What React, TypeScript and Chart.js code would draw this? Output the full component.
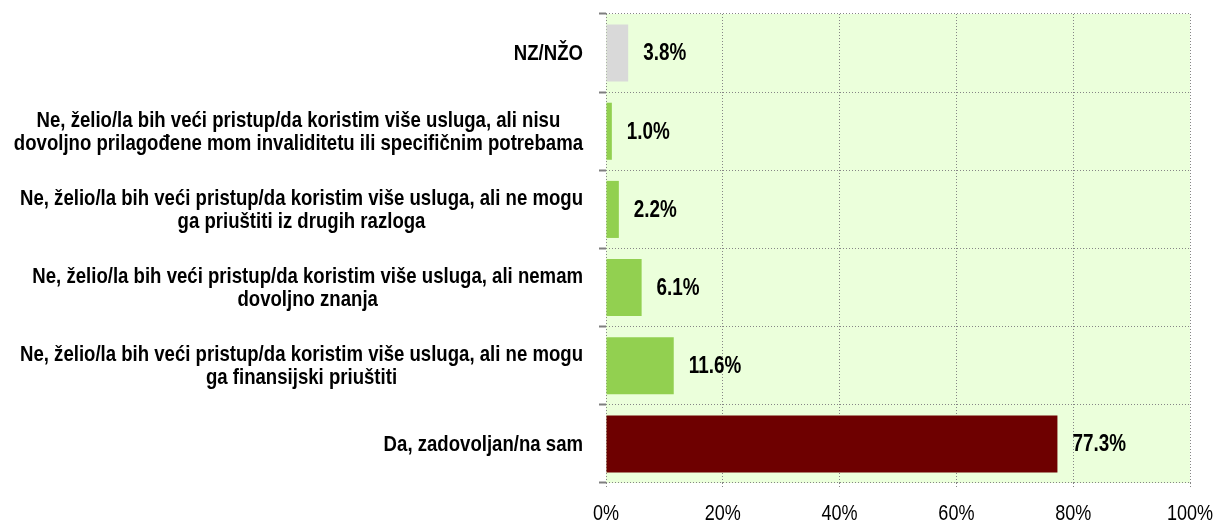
import React, { useEffect, useRef } from "react";
import { Chart, registerables } from "chart.js";

Chart.register(...registerables);

const categoryLines: string[][] = [
  ["NZ/NŽO"],
  [
    "Ne, želio/la bih veći pristup/da koristim više usluga, ali nisu",
    "dovoljno prilagođene mom invaliditetu ili specifičnim potrebama",
  ],
  [
    "Ne, želio/la bih veći pristup/da koristim više usluga, ali ne mogu",
    "ga priuštiti iz drugih razloga",
  ],
  [
    "Ne, želio/la bih veći pristup/da koristim više usluga, ali nemam",
    "dovoljno znanja",
  ],
  [
    "Ne, želio/la bih veći pristup/da koristim više usluga, ali ne mogu",
    "ga finansijski priuštiti",
  ],
  ["Da, zadovoljan/na sam"],
];
const values: number[] = [3.8, 1.0, 2.2, 6.1, 11.6, 77.3];
const barColors: string[] = ["#D9D9D9", "#92D050", "#92D050", "#92D050", "#92D050", "#6E0000"];
const xTicks: number[] = [0, 20, 40, 60, 80, 100];

const FONT = "'Liberation Sans', Arial, sans-serif";
const NARROW = 0.82;
const CAT_NARROW = 0.845;
const GRID = "#868686";

function narrowText(ctx: CanvasRenderingContext2D, text: string, x: number, y: number, s: number = NARROW) {
  ctx.save();
  ctx.translate(x, y);
  ctx.scale(s, 1);
  ctx.fillText(text, 0, 0);
  ctx.restore();
}

export default function App() {
  const ref = useRef<HTMLCanvasElement | null>(null);

  useEffect(() => {
    if (!ref.current) return;

    const bgPlugin = {
      id: "plotBg",
      beforeDraw(chart: any) {
        const { ctx, chartArea } = chart;
        ctx.save();
        ctx.fillStyle = "#EBFFDB";
        ctx.fillRect(chartArea.left, chartArea.top, chartArea.right - chartArea.left, chartArea.bottom - chartArea.top);
        ctx.restore();
      },
    };

    const labelPlugin = {
      id: "labels",
      afterDraw(chart: any) {
        const { ctx } = chart;
        const yScale = chart.scales.y;
        const xScale = chart.scales.x;
        ctx.save();
        ctx.fillStyle = "#000";
        ctx.textBaseline = "middle";

        // category labels
        ctx.font = `bold 22px ${FONT}`;
        ctx.textAlign = "center";
        const rightEdge = 583;
        const lh = 23;
        categoryLines.forEach((lines, i) => {
          const y = yScale.getPixelForValue(i);
          const w = Math.max(...lines.map((l) => ctx.measureText(l).width)) * CAT_NARROW;
          const cx = rightEdge - w / 2;
          lines.forEach((l, k) => {
            narrowText(ctx, l, cx, y + 1 + (k - (lines.length - 1) / 2) * lh, CAT_NARROW);
          });
        });

        // x tick labels
        ctx.font = `22px ${FONT}`;
        ctx.textAlign = "center";
        xTicks.forEach((v) => {
          narrowText(ctx, `${v}%`, xScale.getPixelForValue(v), 514);
        });

        // value labels
        ctx.font = `bold 23px ${FONT}`;
        ctx.textAlign = "left";
        const meta = chart.getDatasetMeta(0);
        meta.data.forEach((el: any, i: number) => {
          narrowText(ctx, values[i].toFixed(1) + "%", el.x + 15, el.y + 1);
        });
        ctx.restore();
      },
    };

    const chart = new Chart(ref.current, {
      type: "bar",
      data: {
        labels: categoryLines.map((l) => l.join(" ")),
        datasets: [
          {
            data: values,
            backgroundColor: barColors,
            borderWidth: 0,
            categoryPercentage: 1,
            barPercentage: 0.73,
          },
        ],
      },
      options: {
        indexAxis: "y",
        animation: false,
        responsive: true,
        maintainAspectRatio: false,
        layout: { padding: { top: 14, right: 27, left: 0, bottom: 0 } },
        plugins: { legend: { display: false }, tooltip: { enabled: false } },
        scales: {
          x: {
            min: 0,
            max: 100,
            afterBuildTicks(scale: any) {
              scale.ticks = xTicks.map((v) => ({ value: v }));
            },
            afterFit(scale: any) {
              scale.height = 40;
            },
            border: { display: false, dash: [1, 2] },
            grid: {
              color: GRID,
              lineWidth: 1,
              tickLength: 6,
              tickColor: GRID,
              tickBorderDash: [1, 2],
            },
            ticks: { display: false },
          },
          y: {
            afterFit(scale: any) {
              scale.width = 606;
            },
            border: { display: false, dash: [1, 2] },
            grid: {
              offset: true,
              color: GRID,
              lineWidth: 1,
              tickLength: 7,
              tickColor: "#7F7F7F",
              tickBorderDash: [],
              tickWidth: 2,
            },
            ticks: { display: false },
          },
        },
      },
      plugins: [bgPlugin, labelPlugin],
    } as any);

    return () => chart.destroy();
  }, []);

  return (
    <div style={{ position: "fixed", left: 0, top: 0, width: 1217, height: 523, background: "#fff" }}>
      <canvas ref={ref} />
    </div>
  );
}
